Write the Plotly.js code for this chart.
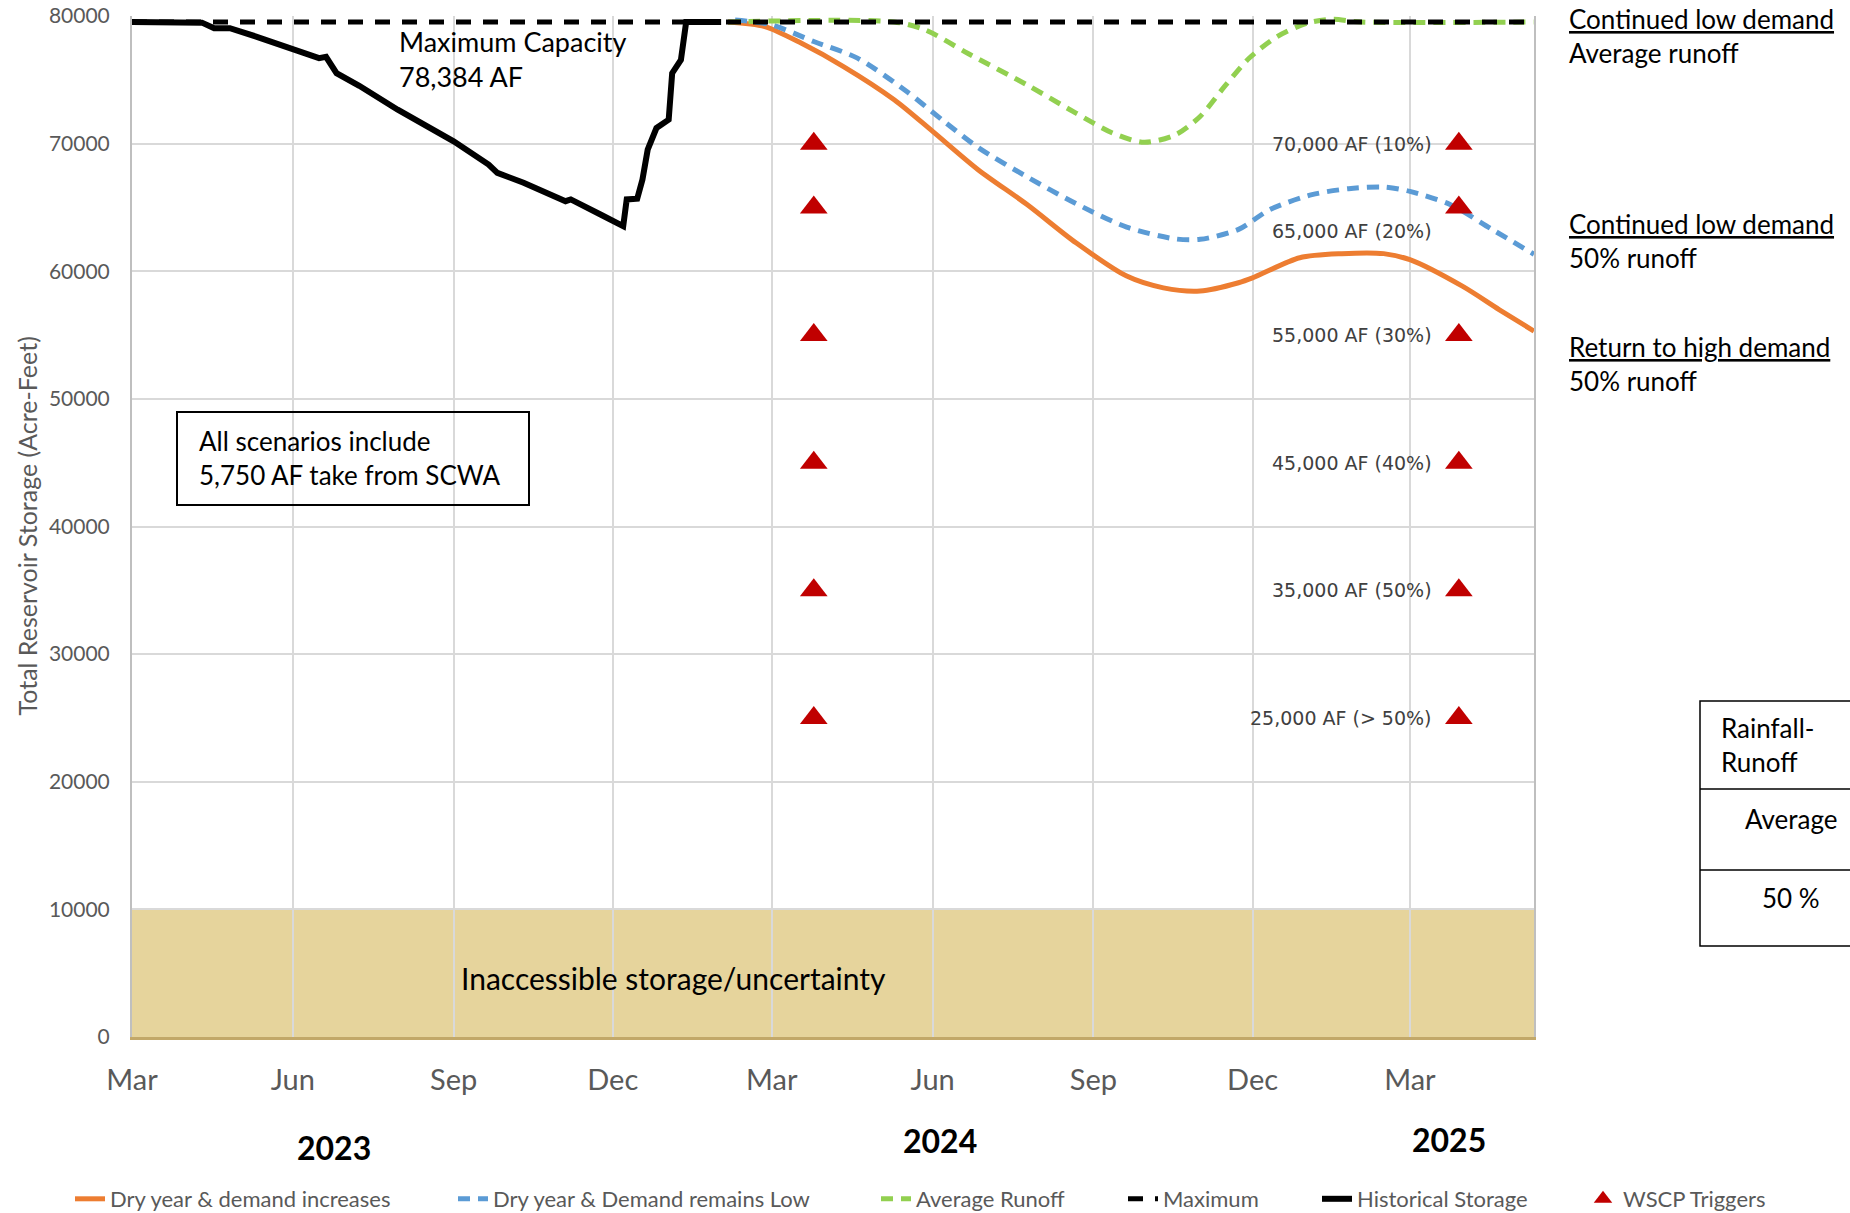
<!DOCTYPE html>
<html>
<head>
<meta charset="utf-8">
<script src="https://cdn.plot.ly/plotly-3.0.1.min.js"></script>
<style>
  html, body { margin: 0; padding: 0; background: #fff; }
  #chart { width: 1850px; height: 1213px; }
</style>
</head>
<body>
<div id="chart"></div>
<script>
// ---------------- DATA ----------------
const monthTickDates = ['2023-03-01','2023-06-01','2023-09-01','2023-12-01','2024-03-01','2024-06-01','2024-09-01','2024-12-01','2025-03-01'];
const monthTickLabels = ['Mar','Jun','Sep','Dec','Mar','Jun','Sep','Dec','Mar'];
const yearLabels = ['2023','2024','2025'];

const histDates = ['2023-03-01','2023-04-10','2023-04-17','2023-04-26','2023-05-11','2023-05-26','2023-06-10','2023-06-16','2023-06-20','2023-06-23','2023-06-26','2023-07-09','2023-07-31','2023-09-01','2023-09-21','2023-09-26','2023-10-11','2023-11-04','2023-11-07','2023-11-24','2023-12-07','2023-12-09','2023-12-15','2023-12-18','2023-12-21','2023-12-26','2024-01-02','2024-01-04','2024-01-09','2024-01-12','2024-02-01'];
const histValues = [79530,79480,79040,79040,78390,77730,77080,76700,76800,76170,75520,74530,72660,70180,68360,67710,66930,65490,65630,64450,63540,65630,65680,67190,69530,71220,71880,75520,76560,79530,79530];

const dryIncDates = ['2024-02-05','2024-02-26','2024-03-18','2024-04-11','2024-05-10','2024-06-01','2024-06-27','2024-07-25','2024-08-22','2024-09-20','2024-10-11','2024-11-01','2024-11-23','2024-12-01','2024-12-28','2025-01-21','2025-02-14','2025-03-01','2025-03-31','2025-04-21','2025-05-11'];
const dryIncValues = [79530,79170,77860,76040,73440,70960,67960,65230,62230,59620,58700,58450,59100,59480,61060,61380,61380,60910,58830,57000,55310];

const dryLowDates = ['2024-02-09','2024-03-01','2024-03-25','2024-04-19','2024-05-17','2024-06-07','2024-06-27','2024-07-25','2024-08-22','2024-09-20','2024-10-18','2024-11-01','2024-11-23','2024-12-11','2025-01-04','2025-01-25','2025-02-14','2025-03-01','2025-03-24','2025-04-17','2025-05-11'];
const dryLowValues = [79690,79300,78000,76700,74100,71800,69700,67400,65300,63460,62530,62500,63280,64840,66000,66470,66600,66260,65230,63280,61330];

const avgRunoffDates = ['2024-02-05','2024-05-10','2024-05-28','2024-06-21','2024-07-25','2024-08-22','2024-09-12','2024-09-30','2024-10-18','2024-11-01','2024-11-15','2024-11-29','2024-12-15','2025-01-01','2025-01-15','2025-02-01','2025-05-11'];
const avgRunoffValues = [79530,79530,78900,77080,74600,72390,70830,70100,70700,72130,74480,76690,78380,79430,79740,79530,79530];

const maxDates = ['2023-03-01','2025-05-11'];
const maxValues = [79530,79530];

const triggerDates = ['2024-03-25','2025-03-29'];
const triggerLevels = [70000,65000,55000,45000,35000,25000];
const triggerLabels = ['70,000 AF (10%)','65,000 AF (20%)','55,000 AF (30%)','45,000 AF (40%)','35,000 AF (50%)','25,000 AF (> 50%)'];

const inaccessibleLevel = 10000;
const axisRange = ['2023-03-01','2025-05-11'];

const scenarioTexts = [
  ['Continued low demand','Average runoff'],
  ['Continued low demand','50% runoff'],
  ['Return to high demand','50% runoff']
];
const runoffTable = ['Rainfall-<br>Runoff','Average','50 %'];

// ---------------- BUILD ----------------
const FONT = 'Lato, Carlito, Calibri, sans-serif';
const GRAY = '#595959';

const trigX = [], trigY = [];
triggerDates.forEach(d => triggerLevels.forEach(v => { trigX.push(d); trigY.push(v); }));

const traces = [
  { x: dryIncDates, y: dryIncValues, name: 'Dry year & demand increases', mode: 'lines', legend: 'legend',
    line: { color: '#ED7D31', width: 5, shape: 'spline', smoothing: 0.8 } },
  { x: dryLowDates, y: dryLowValues, name: 'Dry year & Demand remains Low', mode: 'lines', legend: 'legend2',
    line: { color: '#5B9BD5', width: 5, dash: '12px,8px', shape: 'spline', smoothing: 0.8 } },
  { x: avgRunoffDates, y: avgRunoffValues, name: 'Average Runoff', mode: 'lines', legend: 'legend3',
    line: { color: '#92D050', width: 5, dash: '12px,8px', shape: 'spline', smoothing: 0.8 } },
  { x: maxDates, y: maxValues, name: 'Maximum', mode: 'lines', legend: 'legend4',
    line: { color: '#000000', width: 5, dash: '15px,12px' } },
  { x: histDates, y: histValues, name: 'Historical Storage', mode: 'lines', legend: 'legend5',
    line: { color: '#000000', width: 6 } },
  { x: trigX, y: trigY, name: 'WSCP Triggers', mode: 'markers', legend: 'legend6',
    marker: { symbol: 'triangle-up', size: 24, color: '#C00000' } }
];

// paper coordinate helpers (plot area 132..1534 x, 16..1037 y)
const L = 132, R = 1534, T = 16, B = 1037;
const px = X => (X - L) / (R - L);
const py = Y => (B - Y) / (B - T);

const annotations = [];
triggerLevels.forEach((v, i) => {
  annotations.push({ xref: 'x', yref: 'y', x: triggerDates[1], y: v, text: triggerLabels[i],
    showarrow: false, xanchor: 'right', yanchor: 'middle', xshift: -25, yshift: v === 65000 ? -24 : 0,
    font: { family: 'DejaVu Sans, Verdana, sans-serif', size: 19, color: '#404040' } });
});
annotations.push({ xref: 'paper', yref: 'paper', x: px(397), y: py(59), xanchor: 'left', yanchor: 'middle',
  align: 'left', showarrow: false, text: 'Maximum Capacity<br>78,384 AF', font: { family: FONT, size: 27, color: '#000' } });
annotations.push({ xref: 'paper', yref: 'paper', x: px(197), y: py(458), xanchor: 'left', yanchor: 'middle',
  align: 'left', showarrow: false, text: 'All scenarios include<br>5,750 AF take from SCWA',
  font: { family: FONT, size: 26, color: '#000' } });
annotations.push({ xref: 'paper', yref: 'paper', x: px(673), y: py(978), xanchor: 'center', yanchor: 'middle',
  showarrow: false, text: 'Inaccessible storage/uncertainty', font: { family: FONT, size: 30, color: '#000' } });
const scenY = [36, 241, 364];
scenarioTexts.forEach((s, i) => {
  annotations.push({ xref: 'paper', yref: 'paper', x: px(1567), y: py(scenY[i]), xanchor: 'left', yanchor: 'middle',
    align: 'left', showarrow: false,
    text: '<span style="text-decoration:underline">' + s[0] + '</span><br>' + s[1],
    font: { family: FONT, size: 26, color: '#000' } });
});
const yearX = [334, 940, 1449], yearY = [1147, 1140, 1139];
yearLabels.forEach((t, i) => {
  annotations.push({ xref: 'paper', yref: 'paper', x: px(yearX[i]), y: py(yearY[i]), xanchor: 'center', yanchor: 'middle',
    showarrow: false, text: '<b>' + t + '</b>', font: { family: FONT, size: 32, color: '#000' } });
});
annotations.push({ xref: 'paper', yref: 'paper', x: px(26), y: 0.5, xanchor: 'center', yanchor: 'middle',
  textangle: -90, showarrow: false, text: 'Total Reservoir Storage (Acre-Feet)', font: { family: FONT, size: 25, color: GRAY } });
// runoff table text
annotations.push({ xref: 'paper', yref: 'paper', x: px(1719), y: py(745), xanchor: 'left', yanchor: 'middle', align: 'left',
  showarrow: false, text: runoffTable[0], font: { family: FONT, size: 26, color: '#000' } });
annotations.push({ xref: 'paper', yref: 'paper', x: px(1791), y: py(819), xanchor: 'center', yanchor: 'middle',
  showarrow: false, text: runoffTable[1], font: { family: FONT, size: 26, color: '#000' } });
annotations.push({ xref: 'paper', yref: 'paper', x: px(1791), y: py(898), xanchor: 'center', yanchor: 'middle',
  showarrow: false, text: runoffTable[2], font: { family: FONT, size: 26, color: '#000' } });

const shapes = [
  { type: 'rect', xref: 'paper', yref: 'y', x0: 0, x1: 1, y0: 0, y1: inaccessibleLevel, layer: 'between',
    fillcolor: 'rgba(214,184,90,0.6)', line: { width: 0 } },
  { type: 'rect', xref: 'paper', yref: 'paper', x0: px(177), x1: px(529), y0: py(505), y1: py(412),
    line: { color: '#000', width: 2 }, fillcolor: 'rgba(0,0,0,0)' },
  { type: 'rect', xref: 'paper', yref: 'paper', x0: px(1700), x1: px(1900), y0: py(946), y1: py(701),
    line: { color: '#000', width: 1.5 }, fillcolor: 'rgba(0,0,0,0)' },
  { type: 'line', xref: 'paper', yref: 'paper', x0: px(1700), x1: px(1900), y0: py(789), y1: py(789),
    line: { color: '#000', width: 1.5 } },
  { type: 'line', xref: 'paper', yref: 'paper', x0: px(1700), x1: px(1900), y0: py(870), y1: py(870),
    line: { color: '#000', width: 1.5 } }
];

function legendAt(xFull) {
  return { orientation: 'h', x: px(xFull), y: py(1199), xanchor: 'left', yanchor: 'middle',
    font: { family: FONT, size: 22, color: GRAY }, bgcolor: 'rgba(0,0,0,0)' };
}

const layout = {
  width: 1850, height: 1213,
  margin: { l: L, r: 1850 - R, t: T, b: 1213 - B, autoexpand: false },
  paper_bgcolor: '#fff', plot_bgcolor: '#fff',
  font: { family: FONT, color: GRAY },
  showlegend: true,
  legend: legendAt(70),
  legend2: legendAt(453),
  legend3: legendAt(876),
  legend4: legendAt(1123),
  legend5: legendAt(1317),
  legend6: legendAt(1583),
  xaxis: {
    type: 'date', range: axisRange, tickmode: 'array', tickvals: monthTickDates, ticktext: monthTickLabels,
    showgrid: true, gridcolor: '#D9D9D9', gridwidth: 2, zeroline: false,
    showline: true, linecolor: '#C2A869', linewidth: 3, ticks: '', ticklabelstandoff: 15,
    tickfont: { family: FONT, size: 29, color: GRAY }, automargin: false
  },
  yaxis: {
    range: [0, 80000], tickmode: 'linear', tick0: 0, dtick: 10000, tickformat: 'd',
    showgrid: true, gridcolor: '#D9D9D9', gridwidth: 2, zeroline: false,
    showline: true, mirror: true, linecolor: '#BFBFBF', linewidth: 2, ticks: '', ticklabelstandoff: 16,
    tickfont: { family: FONT, size: 21, color: GRAY }, automargin: false
  },
  annotations: annotations,
  shapes: shapes
};

Plotly.newPlot('chart', traces, layout, { staticPlot: true, displayModeBar: false });
</script>
</body>
</html>
